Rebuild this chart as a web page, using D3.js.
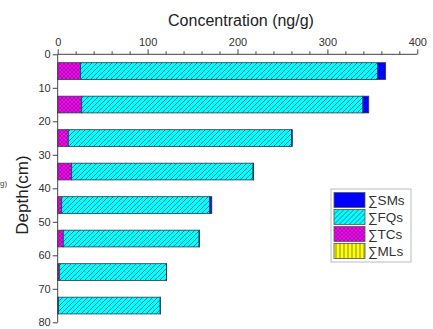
<!DOCTYPE html>
<html>
<head>
<meta charset="utf-8">
<script src="https://cdn.jsdelivr.net/npm/d3@7"></script>
<style>
  html, body { margin: 0; padding: 0; background: #fff; }
  svg { display: block; font-family: "Liberation Sans", Arial, sans-serif; }
</style>
</head>
<body>
<svg id="chart" width="433" height="329"></svg>
<script>
// Sampling depths (cm, mid-point of each 10 cm slice)
const depths = [5, 15, 25, 35, 45, 55, 65, 75];
// Series concentrations (ng/g), stacked left to right: MLs, TCs, FQs, SMs
const mls = [0, 0, 0, 0, 0, 0, 0, 0];
const tcs = [25.5, 26.7, 11.8, 15.5, 4.4, 6.2, 1.8, 0.9];
const fqs = [330.5, 312.8, 248.2, 201.8, 164.8, 151.1, 119.2, 113.1];
const sms = [8.8, 6.5, 1.0, 0.7, 2.2, 0.3, 0.2, 0.2];
const seriesNames = ["∑MLs", "∑TCs", "∑FQs", "∑SMs"];
const xTicks = [0, 100, 200, 300, 400];
const yTicks = [0, 10, 20, 30, 40, 50, 60, 70, 80];

const svg = d3.select("#chart");
const margin = { left: 57.7, top: 54.3, right: 15.7, bottom: 6.7 };
const W = 433, H = 329;

const x = d3.scaleLinear().domain([0, 400]).range([margin.left, W - margin.right]);
const y = d3.scaleLinear().domain([0, 80]).range([margin.top, H - margin.bottom]);
const barHalf = 2.5; // bars span 5 cm of depth

// Fill patterns
const defs = svg.append("defs");
const hatch = defs.append("pattern").attr("id", "pFQ").attr("patternUnits", "userSpaceOnUse")
  .attr("width", 5).attr("height", 5);
hatch.append("rect").attr("width", 5).attr("height", 5).attr("fill", "#00ffff");
hatch.append("path").attr("d", "M-1,6 L6,-1 M-1,1 L1,-1 M4,6 L6,4")
  .attr("stroke", "#1d4a6a").attr("stroke-width", 0.7);

const cross = defs.append("pattern").attr("id", "pTC").attr("patternUnits", "userSpaceOnUse")
  .attr("width", 4).attr("height", 4);
cross.append("rect").attr("width", 4).attr("height", 4).attr("fill", "#ff00ff");
cross.append("path").attr("d", "M0,0 L4,4 M4,0 L0,4")
  .attr("stroke", "#6a1a6a").attr("stroke-width", 0.6);

const vert = defs.append("pattern").attr("id", "pML").attr("patternUnits", "userSpaceOnUse")
  .attr("width", 4).attr("height", 4);
vert.append("rect").attr("width", 4).attr("height", 4).attr("fill", "#ffff00");
vert.append("path").attr("d", "M2,0 L2,4").attr("stroke", "#555").attr("stroke-width", 0.7);

const fills = ["url(#pML)", "url(#pTC)", "url(#pFQ)", "#0000ff"];

// Stack the series
const rows = depths.map((d, i) => ({ depth: d, 0: mls[i], 1: tcs[i], 2: fqs[i], 3: sms[i] }));
const stacked = d3.stack().keys([0, 1, 2, 3])(rows);

stacked.forEach((layer, k) => {
  svg.append("g").selectAll("rect").data(layer).enter().append("rect")
    .attr("x", d => x(d[0]))
    .attr("width", d => Math.max(0, x(d[1]) - x(d[0])))
    .attr("y", d => y(d.data.depth - barHalf))
    .attr("height", d => y(d.data.depth + barHalf) - y(d.data.depth - barHalf))
    .attr("fill", fills[k])
    .attr("stroke", d => (d[1] - d[0]) > 0 ? "#2a3a55" : "none")
    .attr("stroke-width", 0.8);
});

// Top axis
const axisColor = "#444";
const xAxis = svg.append("g").attr("transform", `translate(0,${margin.top})`)
  .call(d3.axisTop(x).tickValues(xTicks).tickSize(5).tickPadding(3));
const xMinor = svg.append("g").attr("transform", `translate(0,${margin.top})`)
  .call(d3.axisTop(x).tickValues(d3.range(20, 400, 20).filter(v => v % 100 !== 0))
    .tickSize(3).tickFormat(""));
xMinor.select(".domain").remove();

// Left axis
const yAxis = svg.append("g").attr("transform", `translate(${margin.left},0)`)
  .call(d3.axisLeft(y).tickValues(yTicks).tickSize(5).tickPadding(2));

[xAxis, xMinor, yAxis].forEach(g => {
  g.selectAll("path, line").attr("stroke", axisColor).attr("stroke-width", 1);
  g.selectAll("text").attr("fill", "#333").style("font-size", "11px")
    .style("font-family", "'Liberation Sans', Arial, sans-serif");
});
xAxis.select(".domain").attr("d", `M${x(0)},0H${x(400)}`);
yAxis.select(".domain").attr("d", `M0,${y(0)}V${y(80)}`);

// Axis titles
svg.append("text").attr("x", 241).attr("y", 26).attr("text-anchor", "middle")
  .attr("fill", "#222").style("font-size", "16px").text("Concentration (ng/g)");
svg.append("text").attr("transform", "translate(28,195) rotate(-90)")
  .attr("text-anchor", "middle").attr("fill", "#222").style("font-size", "17px").text("Depth(cm)");
svg.append("text").attr("x", 0).attr("y", 186)
  .attr("fill", "#444").style("font-size", "8px").text("g)");

// Legend
const lg = svg.append("g").attr("transform", "translate(331,189)");
lg.append("rect").attr("width", 80).attr("height", 73)
  .attr("fill", "#fff").attr("stroke", "#bbb").attr("stroke-width", 1);
const legendOrder = [3, 2, 1, 0];
legendOrder.forEach((k, i) => {
  const row = lg.append("g").attr("transform", `translate(3,${3.5 + i * 17})`);
  row.append("rect").attr("width", 31).attr("height", 15)
    .attr("fill", fills[k]).attr("stroke", "#555").attr("stroke-width", 0.8);
  row.append("text").attr("x", 34).attr("y", 12.5).attr("fill", "#333")
    .style("font-size", "13.5px").text(seriesNames[k]);
});
</script>
</body>
</html>
